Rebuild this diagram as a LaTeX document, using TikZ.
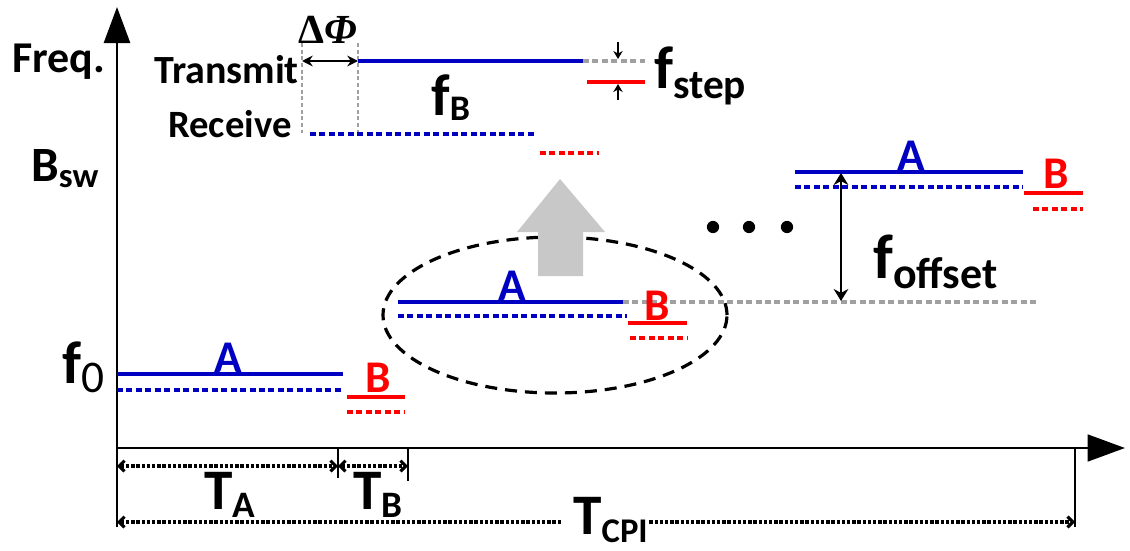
\documentclass[tikz,border=0pt]{standalone}
\usepackage{fontspec}
\setmainfont{Carlito}
\newfontfamily\grfont{Liberation Serif}
\usetikzlibrary{arrows.meta}
\newcommand{\fsz}[1]{\fontsize{#1}{#1}\selectfont}
\newcommand{\lowsub}[5]{{\fsz{#1}#4}\raisebox{-#3}{\fsz{#2}#5}}
\definecolor{dblue}{RGB}{0,0,195}
\definecolor{lgray}{RGB}{160,160,160}
\definecolor{agray}{RGB}{200,200,200}
\definecolor{dred}{RGB}{255,0,0}
\begin{document}
\begin{tikzpicture}[x=0.75pt,y=-0.75pt,
  txt/.style={inner sep=0pt,font=\bfseries},
  lblA/.style={txt,anchor=base,dblue,font=\bfseries\fsz{34pt}},
  lblB/.style={txt,anchor=base,dred,font=\bfseries\fsz{34pt}},
  tx/.style={dblue,line width=2.5pt},
  rx/.style={dblue,line width=2.5pt,dash pattern=on 4.5pt off 2.6pt},
  txr/.style={dred,line width=2.5pt},
  rxr/.style={dred,line width=2.5pt,dash pattern=on 4.5pt off 2.6pt},
  gdash/.style={lgray,line width=2.5pt,dash pattern=on 4.5pt off 2.6pt},
  gvert/.style={lgray,line width=1.9pt,dash pattern=on 3pt off 2pt},
  axis/.style={black,line width=2pt},
  tick/.style={black,line width=1.4pt},
  tline/.style={black,line width=2.3pt,dash pattern=on 2.6pt off 1.3pt},
  ell/.style={black,line width=2.4pt,dash pattern=on 9pt off 6pt}]
\useasboundingbox (0,0) rectangle (1130,550);

% ---------- axes ----------
\coordinate (ybot) at (117,527);
\coordinate (ytop) at (117,7);
\coordinate (o) at (117,448);
\coordinate (xend) at (1125,448);
\draw[axis,-{Triangle[length=27pt,width=19.5pt]}] (ybot) -- (ytop);
\draw[axis,-{Triangle[length=28pt,width=20pt]}] (o) -- (xend);

\node[txt,anchor=base west,font=\bfseries\fsz{33pt}] (freq) at (12,72) {Freq.};
\node[txt,anchor=base west] (bsw) at (31,181) {\lowsub{37pt}{26pt}{5pt}{B}{sw}};
\node[txt,anchor=base west] (f0) at (62,383) {\lowsub{45pt}{34pt}{7pt}{f}{\mdseries 0}};

% ---------- time ticks ----------
\coordinate (ta0) at (338,448);  \coordinate (ta1) at (338,478);
\coordinate (tb0) at (408,448);  \coordinate (tb1) at (408,481);
\coordinate (tc0) at (1075,448); \coordinate (tc1) at (1075,527);
\draw[tick] (ta0) -- (ta1);
\draw[tick] (tb0) -- (tb1);
\draw[tick] (tc0) -- (tc1);

\coordinate (la) at (117,466);
\coordinate (ma) at (338,466);
\coordinate (mb) at (408,466);
\draw[tline,{Straight Barb[length=4pt,width=8pt]}-{Straight Barb[length=4pt,width=8pt]}] (la) -- (ma);
\draw[tline,{Straight Barb[length=4pt,width=8pt]}-{Straight Barb[length=4pt,width=8pt]}] (ma) -- (mb);

\node[txt,anchor=base] (tA) at (230,509) {\lowsub{43pt}{28pt}{6pt}{T}{A}};
\node[txt,anchor=base] (tB) at (378,509) {\lowsub{43pt}{28pt}{6pt}{T}{B}};
\node[txt,anchor=base west] (tcpi) at (573,534) {\lowsub{43pt}{26pt}{6.5pt}{T}{CPI}};

\coordinate (lc) at (117,522);
\coordinate (rcc) at (1075,522);
\draw[tline,{Straight Barb[length=4pt,width=8pt]}-] (lc) -- ([xshift=-8pt]lc -| tcpi.west);
\draw[tline,-{Straight Barb[length=4pt,width=8pt]}] ([xshift=1pt]rcc -| tcpi.east) -- (rcc);

% ---------- f0 group ----------
\draw[tx] (117,374) -- (343,374);
\draw[rx] (117,390) -- (343,390);
\draw[txr] (347,397) -- (405,397);
\draw[rxr] (347,412) -- (405,412);
\node[lblA] (a0) at (228,372) {A};
\node[lblB] (b0) at (378,392) {B};

% ---------- middle group ----------
\draw[ell] (555,315) ellipse [x radius=129pt, y radius=58.5pt];
\fill[agray] (560,179) -- (605,232) -- (583,232) -- (583,276) -- (538,276) -- (538,232) -- (517,232) -- cycle;
\draw[gdash] (623,302) -- (1037,302);
\draw[tx] (398,302) -- (623,302);
\draw[rx] (398,316) -- (627,316);
\draw[txr] (628,323) -- (687,323);
\draw[rxr] (630,338) -- (688,338);
\node[lblA] (a1) at (512,300) {A};
\node[lblB] (b1) at (657,320) {B};

% ---------- dots ----------
\fill (713,227) circle[radius=4.6pt];
\fill (749,227) circle[radius=4.6pt];
\fill (787,227) circle[radius=4.6pt];

% ---------- right group ----------
\draw[tx] (795,172) -- (1023,172);
\draw[rx] (795,187) -- (1023,187);
\draw[txr] (1024,193) -- (1083,193);
\draw[rxr] (1033,209) -- (1083,209);
\node[lblA] (a2) at (911,170) {A};
\node[lblB] (b2) at (1056,188) {B};
\coordinate (off1) at (841,173);
\coordinate (off2) at (841,301);
\draw[black,line width=1.9pt,{Stealth[length=9pt,width=11pt]}-{Stealth[length=9pt,width=11pt]}] (off1) -- (off2);
\node[txt,anchor=base west] (foff) at (873,278) {\lowsub{47pt}{33pt}{7.5pt}{f}{offset}};

% ---------- top detail ----------
\draw[gvert] (302,43) -- (302,133);
\draw[gvert] (358,43) -- (358,133);
\draw[gdash] (583,61) -- (645,61);
\draw[tx] (358,61) -- (583,61);
\draw[txr] (587,82) -- (645,82);
\draw[rx] (310,134) -- (537,134);
\draw[rxr] (540,153) -- (599,153);
\coordinate (dp1) at (302,61);
\coordinate (dp2) at (358,61);
\draw[black,line width=1.6pt,{Stealth[length=8pt,width=8pt]}-{Stealth[length=8pt,width=8pt]}] (dp1) -- (dp2);
\node[inner sep=0pt,anchor=base west] (dphi) at (298,43) {\grfont\fsz{31pt}\textbf{Δ\textit{Φ}}};
\node[txt,anchor=base west,font=\bfseries\fsz{30pt}] (tr) at (154,83) {Transmit};
\node[txt,anchor=base west,font=\bfseries\fsz{29pt}] (recv) at (168,137) {Receive};
\node[txt,anchor=base west] (fB) at (431,115) {\lowsub{44pt}{27pt}{4pt}{f}{B}};

\coordinate (s1) at (618,42);
\coordinate (s2) at (618,59);
\coordinate (s3) at (618,100);
\coordinate (s4) at (618,84);
\draw[black,line width=1.3pt,-{Stealth[length=6pt,width=7pt]}] (s1) -- (s2);
\draw[black,line width=1.3pt,-{Stealth[length=6pt,width=7pt]}] (s3) -- (s4);
\node[txt,anchor=base west] (fstep) at (654,88) {\lowsub{45pt}{31pt}{7.5pt}{f}{step}};
\end{tikzpicture}
\end{document}
